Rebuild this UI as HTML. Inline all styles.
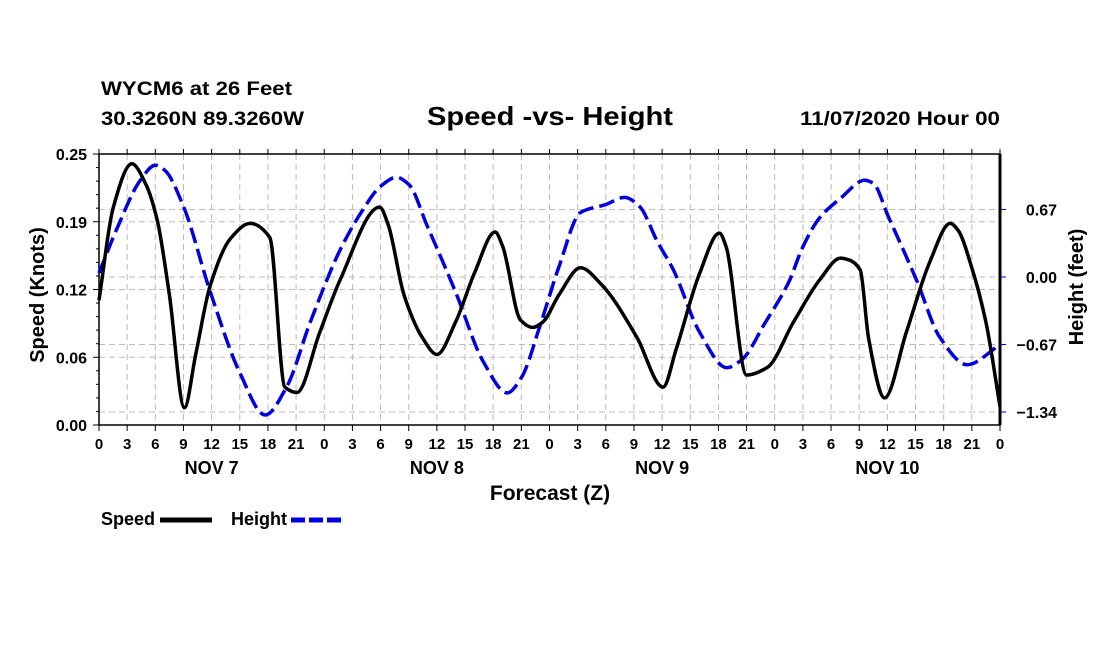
<!DOCTYPE html>
<html><head><meta charset="utf-8"><style>
body{margin:0;background:#fff;}
svg text{font-family:"Liberation Sans",sans-serif;font-weight:bold;fill:#000;}
</style></head><body>
<svg id="chart" width="1100" height="650" xmlns="http://www.w3.org/2000/svg">
<g>
<text x="101" y="95" font-size="19" textLength="191" lengthAdjust="spacingAndGlyphs">WYCM6 at 26 Feet</text>
<text x="101" y="125" font-size="19" textLength="203" lengthAdjust="spacingAndGlyphs">30.3260N 89.3260W</text>
<text x="427" y="125" font-size="26" textLength="246" lengthAdjust="spacingAndGlyphs">Speed -vs- Height</text>
<text x="800" y="125" font-size="19" textLength="200" lengthAdjust="spacingAndGlyphs">11/07/2020 Hour 00</text>
</g>
<g id="grid"></g>
<g id="axes"></g>
<g id="series"></g>
<text transform="translate(44,295) rotate(-90)" font-size="20" text-anchor="middle">Speed (Knots)</text>
<text transform="translate(1083,287) rotate(-90)" font-size="20" text-anchor="middle">Height (feet)</text>
<text x="550" y="500" font-size="21" text-anchor="middle">Forecast (Z)</text>
<g>
<g>
<text x="101" y="525" font-size="18">Speed</text>
<line x1="160" y1="520" x2="212" y2="520" stroke="#000" stroke-width="5"/>
</g>
<g>
<text x="231" y="525" font-size="18">Height</text>
<line x1="291" y1="520" x2="342" y2="520" stroke="#0000dd" stroke-width="5" stroke-dasharray="14,4"/>
</g>
</g>
</svg>
<script>
const speedHours=[0,1.5,3.5,5,6.2,7.5,9.1,10.3,11.8,14,16.1,18.2,19.8,21.1,23.5,25.7,29.9,30.8,32.5,34.5,36,38,40,42.2,43,44.9,46.2,47.3,49,51.3,53.5,57.3,60.1,61.5,64,66.1,66.8,69,71.2,74,76.8,79,80,81.1,82,83.7,86,88.5,90.7,91.5,93,94.5,96];
const speedValues=[0.115,0.200,0.241,0.222,0.189,0.120,0.016,0.065,0.127,0.172,0.186,0.173,0.035,0.030,0.085,0.134,0.201,0.185,0.120,0.080,0.065,0.095,0.140,0.178,0.165,0.097,0.090,0.095,0.120,0.145,0.130,0.081,0.035,0.070,0.140,0.177,0.165,0.046,0.053,0.095,0.134,0.154,0.152,0.143,0.080,0.025,0.085,0.150,0.186,0.180,0.145,0.095,0.017];
const heightHours=[0,2,4.4,6,7,9,11.8,15,17.7,20,22.5,25.7,28,30,31.7,33,35,38,41,43.5,45,47,49,51.3,54,56,57.6,59.5,61.2,64,66.9,68.5,71,73.5,75,76.8,79,81.6,82.5,84.1,87.1,89.6,92.5,95.3,96];
const heightValues=[0.04,0.50,0.96,1.11,1.06,0.70,-0.13,-0.95,-1.37,-1.09,-0.45,0.27,0.65,0.90,0.99,0.92,0.50,-0.15,-0.85,-1.15,-1.00,-0.48,0.10,0.64,0.72,0.79,0.70,0.35,0.07,-0.55,-0.90,-0.82,-0.45,-0.05,0.30,0.59,0.78,0.96,0.93,0.60,-0.03,-0.60,-0.87,-0.72,-0.66];
const leftTicks=[0,0.0625,0.125,0.1875,0.25];
const leftTickLabels=["0.00","0.06","0.12","0.19","0.25"];
const rightTicks=[-1.34,-0.67,0,0.67];
const rightTickLabels=["\u22121.34","\u22120.67","0.00","0.67"];
const hourLabels=["0","3","6","9","12","15","18","21"];
const dayLabels=["NOV 7","NOV 8","NOV 9","NOV 10"];

const X0=99,X1=1000,Y0=154,Y1=425;
const xs=h=>X0+(X1-X0)*h/96;
const ys=v=>Y1-(Y1-Y0)*v/0.25;
const yh=h=>277-h*100.75;
const NS="http://www.w3.org/2000/svg";
function mk(tag,attrs,parent){const e=document.createElementNS(NS,tag);for(const k in attrs)e.setAttribute(k,attrs[k]);parent.appendChild(e);return e;}
const grid=document.getElementById('grid'),axes=document.getElementById('axes'),series=document.getElementById('series');

for(let i=1;i<32;i++){
 const l=mk('line',{x1:xs(i*3),x2:xs(i*3),y1:Y0,y2:Y1,stroke:'#bbb','stroke-dasharray':'6,4'},grid);
 
 
}
leftTicks.slice(1,-1).forEach(v=>{
 const l=mk('line',{x1:X0,x2:X1,y1:ys(v),y2:ys(v),stroke:'#bbb','stroke-dasharray':'6,4'},grid);
 
 
});
rightTicks.forEach(v=>{
 const l=mk('line',{x1:X0,x2:X1,y1:yh(v),y2:yh(v),stroke:'#bbb','stroke-dasharray':'6,4'},grid);
 
 
});

const frame=mk('rect',{x:X0,y:Y0,width:X1-X0,height:Y1-Y0,fill:'none',stroke:'#000','stroke-width':1.5},axes);


mk('line',{x1:X1,x2:X1,y1:Y0,y2:Y1,stroke:'#000','stroke-width':3},axes);

for(let i=0;i<=20;i++){const v=i*0.0125;const major=i%5==0;
 mk('line',{x1:X0-(major?6:3),x2:X0,y1:ys(v),y2:ys(v),stroke:'#000'},axes);}
leftTicks.forEach((v,i)=>{
 const t=mk('text',{x:X0-12,y:ys(v)+6,'font-size':16,'text-anchor':'end'},axes);t.textContent=leftTickLabels[i];
 
 
});
rightTicks.forEach((v,i)=>{
 mk('line',{x1:X1,x2:X1+6,y1:yh(v),y2:yh(v),stroke:'#0000aa'},axes);
 const t=mk('text',{x:1057,y:yh(v)+6,'font-size':16,'text-anchor':'end'},axes);t.textContent=rightTickLabels[i];
 
 
});
for(let i=0;i<=32;i++){const x=xs(i*3);
 mk('line',{x1:x,x2:x,y1:Y1,y2:Y1+6,stroke:'#000'},axes);
 mk('line',{x1:x,x2:x,y1:Y0,y2:Y0-5,stroke:'#000'},axes);
 const t=mk('text',{x:x,y:Y1+24,'font-size':15,'text-anchor':'middle'},axes);t.textContent=hourLabels[i%8];
 
 
}
dayLabels.forEach((d,i)=>{
 const t=mk('text',{x:xs(12+24*i),y:474,'font-size':18,'text-anchor':'middle'},axes);t.textContent=d;
 
 
});

// monotone cubic (Fritsch-Carlson) path
function smooth(pts){
 const n=pts.length,dx=[],sl=[],m=[];
 for(let i=0;i<n-1;i++){dx[i]=pts[i+1][0]-pts[i][0];sl[i]=(pts[i+1][1]-pts[i][1])/dx[i];}
 m[0]=sl[0];m[n-1]=sl[n-2];
 for(let i=1;i<n-1;i++){
  if(sl[i-1]*sl[i]<=0)m[i]=0;
  else{const w1=2*dx[i]+dx[i-1],w2=dx[i]+2*dx[i-1];m[i]=(w1+w2)/(w1/sl[i-1]+w2/sl[i]);}
 }
 let d='M'+pts[0][0].toFixed(1)+','+pts[0][1].toFixed(1);
 for(let i=0;i<n-1;i++){
  const h=dx[i]/3;
  d+='C'+(pts[i][0]+h).toFixed(1)+','+(pts[i][1]+m[i]*h).toFixed(1)+' '+(pts[i+1][0]-h).toFixed(1)+','+(pts[i+1][1]-m[i+1]*h).toFixed(1)+' '+pts[i+1][0].toFixed(1)+','+pts[i+1][1].toFixed(1);
 }
 return d;
}
const hp=mk('path',{d:smooth(heightHours.map((h,i)=>[xs(h),yh(heightValues[i])])),fill:'none',stroke:'#0000dd','stroke-width':3.5,'stroke-dasharray':'16,6'},series);


const sp=mk('path',{d:smooth(speedHours.map((h,i)=>[xs(h),ys(speedValues[i])])),fill:'none',stroke:'#000','stroke-width':3.5},series);


</script>
</body></html>
